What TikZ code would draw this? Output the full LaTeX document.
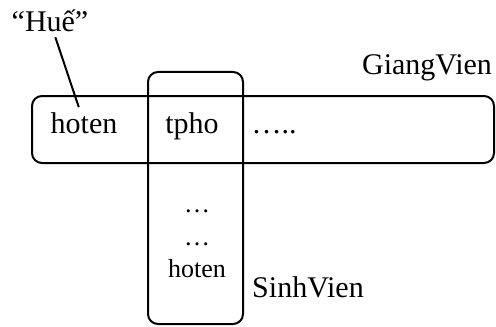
\documentclass[tikz,border=0pt]{standalone}
\usepackage{fontspec}
\setmainfont{Liberation Serif}
\begin{document}
\begin{tikzpicture}[x=0.5pt, y=-0.5pt, line width=1pt,
  table box/.style={draw,rounded corners=5pt,inner sep=0pt},
  label text/.style={font=\fontsize{15}{18}\selectfont,inner sep=2pt,anchor=base},
  small text/.style={font=\fontsize{13}{15}\selectfont,inner sep=1pt,anchor=base}]
\useasboundingbox (0,0) rectangle (496,326);
\node [table box,minimum width=231pt,minimum height=33.5pt](gv) at (263,129.5) {};
\node [table box,minimum width=47.5pt,minimum height=126pt](sv) at (195.5,198) {};
\begin{scope}[every node/.style={label text}]
\node (hue) at (50,32) {“Huế”};
\node (hoten) at (84,133) {hoten};
\node (tpho) at (192,133) {tpho};
\node (more) at (274,133) {…..};
\node (gvname) at (427,75) {GiangVien};
\node (svname) at (308,297) {SinhVien};
\end{scope}
\begin{scope}[every node/.style={small text}]
\node (dots1) at (197,212) {…};
\node (dots2) at (197,245) {…};
\node (svhoten) at (197,277) {hoten};
\end{scope}
\draw (hue) -- (hoten);
\end{tikzpicture}
\end{document}
